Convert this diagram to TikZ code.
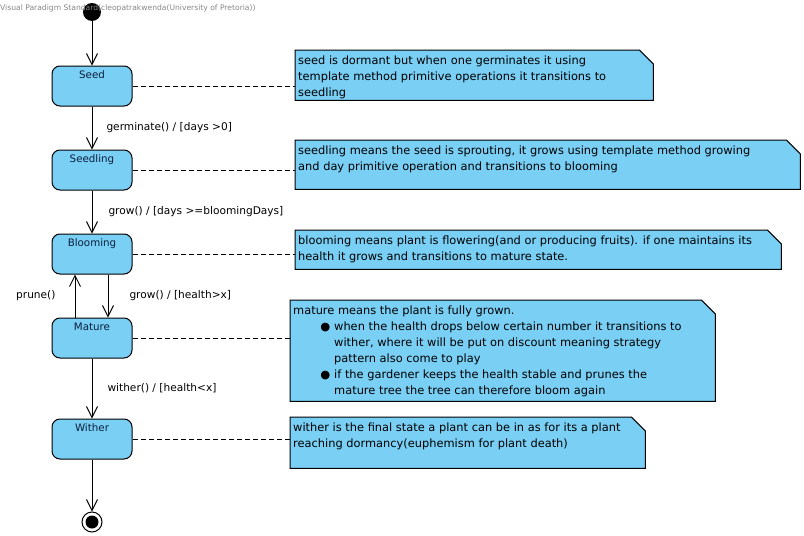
\documentclass[tikz,border=0pt]{standalone}
\usepackage{fontspec}
\setmainfont{DejaVu Sans}
\usetikzlibrary{arrows.meta}
\definecolor{vpblue}{RGB}{122,207,245}
\definecolor{hdrgray}{RGB}{135,135,135}
\definecolor{statetext}{RGB}{10,30,60}
\tikzset{
  stateb/.style={draw, line width=1pt, fill=vpblue, rounded corners=8pt,
    minimum width=80pt, minimum height=40pt, inner ysep=2pt, text=statetext,
    text height=10pt, text depth=26pt, font=\fontsize{10.3}{12}\selectfont},
  initst/.style={circle, fill=black, minimum size=18pt, inner sep=0pt},
  finalst/.style={circle, draw, line width=1pt, fill=white, minimum size=20pt, inner sep=0pt,
    path picture={\fill[black] (path picture bounding box.center) circle (6.5pt);}},
  trans/.style={line width=1pt, -{Straight Barb[length=11pt,width=11pt,line width=1pt]}},
  tlabel/.style={font=\fontsize{10.6}{12}\selectfont, inner sep=0pt},
  notebg/.style={inner sep=0pt},
  noteshape/.style={draw, line width=1pt, fill=vpblue},
  notetext/.style={align=left, inner xsep=3pt, inner ysep=6pt, font=\fontsize{11.4}{16}\selectfont},
  notelink/.style={line width=1pt, dash pattern=on 5pt off 3pt}
}
\newcommand\umlnote[6]{%
  \node[notebg, minimum width=#4pt, minimum height=#5pt, anchor=north west] (#1) at (#2,#3) {};
  \draw[noteshape] (#1.north west) -- ([xshift=-14pt]#1.north east) -- ([yshift=-14pt]#1.north east)
     -- (#1.south east) -- (#1.south west) -- cycle;
  \node[notetext, anchor=north west] (#1-t) at (#1.north west) {#6};
}
\begin{document}
\begin{tikzpicture}[x=1pt, y=-1pt]
\useasboundingbox[fill=white] (0,0) rectangle (804,536);

% states
\node[initst] (init) at (92,12) {};
\node[stateb] (seed) at (92,86) {Seed};
\node[stateb] (seedling) at (92,170) {Seedling};
\node[stateb] (blooming) at (92,254) {Blooming};
\node[stateb] (mature) at (92,338) {Mature};
\node[stateb] (wither) at (92,439) {Wither};
\node[finalst] (fin) at (92,522) {};

% header
\node[anchor=west, text=hdrgray, inner sep=0pt, font=\fontsize{7.6}{8}\selectfont] (hdr) at (0,8)
  {Visual Paradigm Standard(cleopatrakwenda(University of Pretoria))};

% transitions
\draw[trans] (init) -- (seed);
\draw[trans] (seed) -- (seedling)
  node[tlabel, midway, anchor=west, xshift=14pt] {germinate() / [days >0]};
\draw[trans] (seedling) -- (blooming)
  node[tlabel, midway, anchor=west, xshift=16pt] {grow() / [days >=bloomingDays]};
\draw[trans] ([xshift=-17pt]mature.north) -- ([xshift=-17pt]blooming.south)
  node[tlabel, midway, anchor=east, xshift=-19pt] {prune()};
\draw[trans] ([xshift=16pt]blooming.south) -- ([xshift=16pt]mature.north)
  node[tlabel, midway, anchor=west, xshift=21pt] {grow() / [health>x]};
\draw[trans] (mature) -- (wither)
  node[tlabel, midway, anchor=west, xshift=15pt] {wither() / [health<x]};
\draw[trans] (wither) -- (fin);

% notes
\umlnote{n1}{295}{50}{358}{50}{seed is dormant but when one germinates it using\\template method primitive operations it transitions to\\seedling}
\umlnote{n2}{295}{140}{505}{49}{seedling means the seed is sprouting, it grows using template method growing\\and day primitive operation and transitions to blooming}
\umlnote{n3}{295}{230}{486}{39}{blooming means plant is flowering(and or producing fruits). if one maintains its\\health it grows and transitions to mature state.}
\umlnote{n4}{290}{300}{425}{101}{mature means the plant is fully grown.\\
\hspace*{41pt}\llap{●\hspace{4pt}}when the health drops below certain number it transitions to\\
\hspace*{41pt}wither, where it will be put on discount meaning strategy\\
\hspace*{41pt}pattern also come to play\\
\hspace*{41pt}\llap{●\hspace{4pt}}if the gardener keeps the health stable and prunes the\\
\hspace*{41pt}mature tree the tree can therefore bloom again}
\umlnote{n5}{290}{417}{355}{51}{wither is the final state a plant can be in as for its a plant\\reaching dormancy(euphemism for plant death)}

% note links
\draw[notelink] (seed.east) -- (seed.east -| n1.west);
\draw[notelink] (seedling.east) -- (seedling.east -| n2.west);
\draw[notelink] (blooming.east) -- (blooming.east -| n3.west);
\draw[notelink] (mature.east) -- (mature.east -| n4.west);
\draw[notelink] (wither.east) -- (wither.east -| n5.west);
\end{tikzpicture}
\end{document}
